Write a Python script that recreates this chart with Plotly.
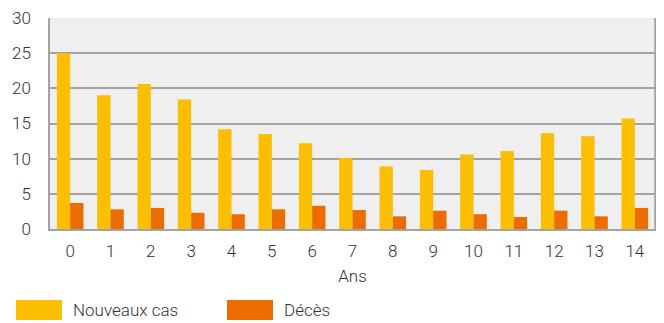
import plotly.graph_objects as go

categories = [str(i) for i in range(15)]
nouveaux_cas = [25.0, 19.0, 20.6, 18.4, 14.2, 13.5, 12.2, 10.1, 8.9, 8.4, 10.6, 11.1, 13.6, 13.2, 15.7]
deces = [3.7, 2.8, 3.0, 2.3, 2.1, 2.8, 3.3, 2.7, 1.8, 2.6, 2.1, 1.7, 2.6, 1.8, 3.0]
series_names = ["Nouveaux cas", "Décès"]
colors = ["#FBBE00", "#EC6C00"]
y_ticks = [0, 5, 10, 15, 20, 25, 30]

FONT = "Roboto"
TXT = "#333333"
GRID = "#a3a3a3"
FS = 17
OFF = 8  # default page body margin

fig = go.Figure()
for name, vals, col in zip(series_names, [nouveaux_cas, deces], colors):
    fig.add_trace(go.Bar(x=categories, y=vals, name=name, marker_color=col,
                         marker_line_width=0, showlegend=False))

tf = dict(family=FONT, size=FS, color=TXT, weight=300)

fig.update_layout(
    width=664 - OFF, height=323 - OFF,
    margin=dict(l=50 - OFF, r=9, t=18 - OFF, b=94),
    paper_bgcolor="white", plot_bgcolor="#EFEFEF",
    barmode="group", bargap=0.34, bargroupgap=0,
    font=tf,
)
fig.update_xaxes(
    type="category", showgrid=False, showline=True, linecolor=GRID, linewidth=2,
    mirror=False, ticks="", tickfont=tf, automargin=False, ticklabelstandoff=6,
    title=dict(text="Ans", font=tf, standoff=10),
)
fig.update_yaxes(
    range=[0, 30], tickvals=y_ticks, showgrid=True, gridcolor=GRID, gridwidth=1.5,
    showline=True, linecolor=GRID, linewidth=1.5, mirror=True, zeroline=False,
    ticks="", ticklabelstandoff=14, tickfont=tf, automargin=False,
    ticklabeloverflow="allow",
)
# right border
fig.add_shape(type="line", xref="paper", yref="paper", x0=1, x1=1, y0=0, y1=1,
              line=dict(color=GRID, width=1.5))

# custom legend
leg_x = [16, 227]
for i, (name, col) in enumerate(zip(series_names, colors)):
    x0 = (leg_x[i] - 50) / 605
    x1 = (leg_x[i] + 46 - 50) / 605
    y0 = (229 - 320) / 211
    y1 = (229 - 300) / 211
    fig.add_shape(type="rect", xref="paper", yref="paper", x0=x0, x1=x1, y0=y0, y1=y1,
                  fillcolor=col, line_width=0)
    fig.add_annotation(xref="paper", yref="paper", x=(leg_x[i] + 55 - 50) / 605,
                       y=(y0 + y1) / 2, text=name, showarrow=False, xanchor="left",
                       yanchor="middle", font=tf)

fig.write_html("out.html")
